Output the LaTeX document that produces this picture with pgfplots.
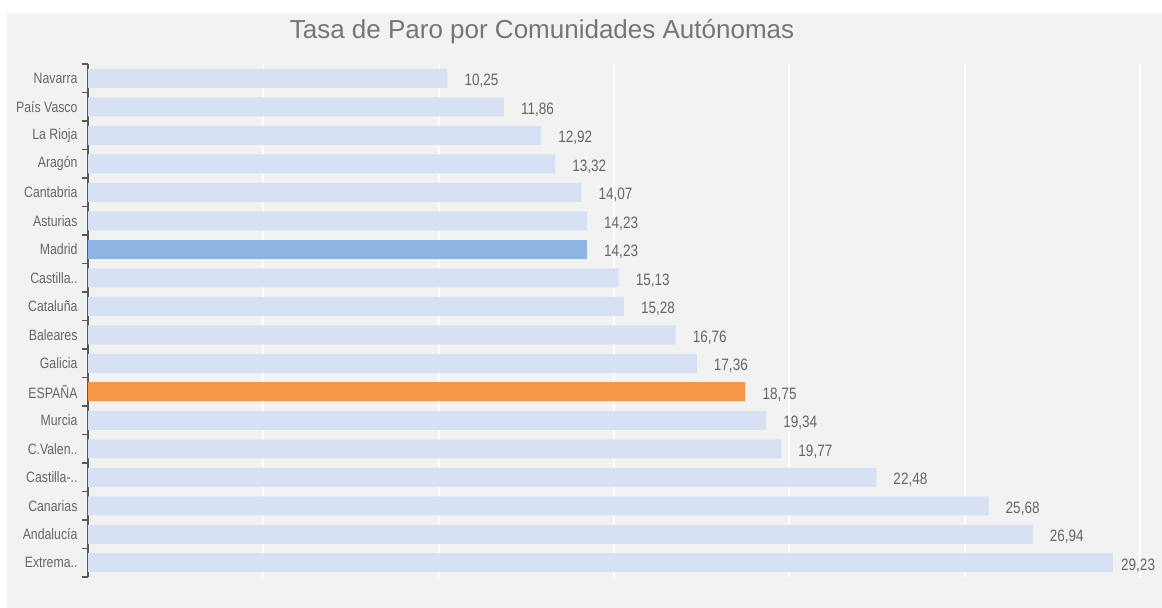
\documentclass[border=0pt]{standalone}
\usepackage{pgfplots}
\pgfplotsset{compat=1.18}
\usepackage{pgfplotstable}
\usepackage{fontspec}
\setmainfont{Liberation Sans}
\newfontfamily\narrowfont[FakeStretch=0.82]{Liberation Sans}
\definecolor{bg}{HTML}{F2F2F2}
\definecolor{lightbar}{HTML}{D6E2F3}
\definecolor{madrid}{HTML}{8EB4E3}
\definecolor{spain}{HTML}{F79646}
\definecolor{txt}{HTML}{666666}
\definecolor{axisc}{HTML}{595959}
\definecolor{titlec}{HTML}{767676}

\pgfplotstableread{
y x
0 10.25
1 11.86
2 12.92
3 13.32
4 14.07
5 14.23
7 15.13
8 15.28
9 16.76
10 17.36
12 19.34
13 19.77
14 22.48
15 25.68
16 26.94
}\lightdata
\pgfplotstableread{
y x
17 29.23
}\lastdata
\pgfplotstableread{
y x
6 14.23
}\madriddata
\pgfplotstableread{
y x
11 18.75
}\spaindata

\begin{document}
\begin{tikzpicture}
\useasboundingbox (0,0) rectangle (1162bp,608bp);
\fill[white] (0,0) rectangle (1162bp,608bp);
\fill[bg] (7bp,0) rectangle (1162bp,594bp);
\node[text=titlec, font=\fontsize{26bp}{29bp}\selectfont] at (542bp,576bp) {Tasa de Paro por Comunidades Autónomas};
\begin{axis}[
  at={(88bp,31bp)}, anchor=south west,
  scale only axis, width=1052bp, height=513bp,
  xmin=0, xmax=30, ymin=-0.5, ymax=17.5,
  y dir=reverse,
  clip=false,
  axis lines*=left,
  x axis line style={draw=none},
  y axis line style={draw=axisc, line width=1.5bp},
  xtick={5,10,...,30}, xticklabels={},
  xmajorgrids,
  major grid style={white, line width=2bp},
  ytick={0,...,17},
  yticklabels={Navarra,País Vasco,La Rioja,Aragón,Cantabria,Asturias,Madrid,Castilla..,Cataluña,Baleares,Galicia,ESPAÑA,Murcia,C.Valen..,Castilla-..,Canarias,Andalucía,Extrema..},
  major tick length=0pt,
  minor ytick={-0.5,0.5,...,17.5},
  minor tick length=6bp,
  tick align=outside,
  minor tick style={draw=axisc, line width=1.3bp},
  yticklabel style={text=txt, font=\narrowfont\fontsize{15bp}{17bp}\selectfont, xshift=-7bp},
  xbar, bar width=19bp, bar shift=0pt,
  nodes near coords={\pgfmathprintnumber[fixed,fixed zerofill,precision=2,use comma,assume math mode=true]{\pgfplotspointmeta}},
  every node near coord/.append style={text=txt, font=\narrowfont\fontsize{16.5bp}{18bp}\selectfont, anchor=west, inner sep=0pt, xshift=17bp, yshift=-3bp},
]
\addplot[fill=lightbar, draw=none] table[x=x,y=y] {\lightdata};
\addplot[fill=lightbar, draw=none, every node near coord/.append style={xshift=-9bp}] table[x=x,y=y] {\lastdata};
\addplot[fill=madrid, draw=none] table[x=x,y=y] {\madriddata};
\addplot[fill=spain, draw=none] table[x=x,y=y] {\spaindata};
\end{axis}
\end{tikzpicture}
\end{document}
